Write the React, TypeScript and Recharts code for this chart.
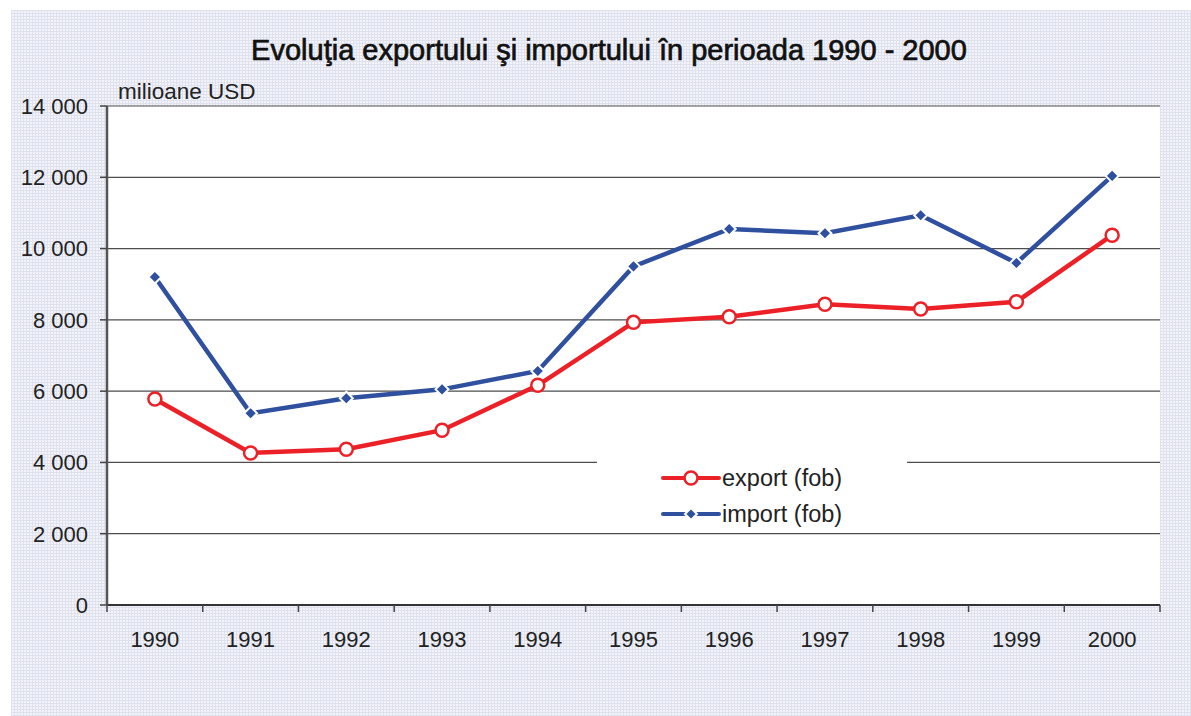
import React from 'react';
import { LineChart, Line, XAxis, YAxis, CartesianGrid, Legend } from 'recharts';

const years = ['1990', '1991', '1992', '1993', '1994', '1995', '1996', '1997', '1998', '1999', '2000'];
const exportValues = [5780, 4265, 4370, 4905, 6165, 7930, 8085, 8440, 8305, 8510, 10375];
const importValues = [9203, 5380, 5800, 6050, 6565, 9500, 10550, 10430, 10935, 9595, 12040];
const yTicks = [0, 2000, 4000, 6000, 8000, 10000, 12000, 14000];
const seriesNames = ['export (fob)', 'import (fob)'];
const titleText = 'Evoluţia exportului şi importului în perioada 1990 - 2000';
const unitLabel = 'milioane USD';

const data = years.map((y, i) => ({ year: y, exp: exportValues[i], imp: importValues[i] }));

const RED = '#ec2027';
const BLUE = '#2f4f9f';
const FONT = '"Liberation Sans", Arial, sans-serif';
const PLOT_W = 1053;
const BW = PLOT_W / years.length;

const fmt = (v: number) => String(v).replace(/\B(?=(\d{3})+(?!\d))/g, ' ');

const Diamond = (props: any) => {
  const { cx, cy } = props;
  if (cx == null || cy == null) return null;
  const s = 6.5;
  return (
    <path
      d={`M${cx},${cy - s} L${cx + s},${cy} L${cx},${cy + s} L${cx - s},${cy} Z`}
      fill={BLUE}
      stroke="#ffffff"
      strokeWidth={2}
    />
  );
};

const Ring = (props: any) => {
  const { cx, cy } = props;
  if (cx == null || cy == null) return null;
  return <circle cx={cx} cy={cy} r={6.5} fill="#ffffff" stroke={RED} strokeWidth={2.5} />;
};

const XTick = (props: any) => {
  const { x, y, payload, index } = props;
  const left = x - BW / 2;
  return (
    <g>
      <line x1={left} y1={y} x2={left} y2={y + 7} stroke="#444" strokeWidth={1.5} />
      {index === years.length - 1 && (
        <line x1={x + BW / 2} y1={y} x2={x + BW / 2} y2={y + 7} stroke="#444" strokeWidth={1.5} />
      )}
      <text x={x} y={y + 42} textAnchor="middle" fontSize={22} fill="#222" fontFamily={FONT}>
        {payload.value}
      </text>
    </g>
  );
};

const LegendContent = () => (
  <div style={{ width: 310, height: 74, background: '#ffffff', position: 'relative', fontFamily: FONT }}>
    {seriesNames.map((name, i) => (
      <div
        key={name}
        style={{ position: 'absolute', left: 64, top: 10 + i * 36, height: 24, display: 'flex', alignItems: 'center' }}
      >
        <svg width={60} height={24}>
          <line x1={2} y1={12} x2={58} y2={12} stroke={i === 0 ? RED : BLUE} strokeWidth={4} strokeLinecap="round" />
          {i === 0 ? (
            <circle cx={30} cy={12} r={6.5} fill="#fff" stroke={RED} strokeWidth={2.5} />
          ) : (
            <path d="M30,6 L36,12 L30,18 L24,12 Z" fill={BLUE} stroke="#fff" strokeWidth={2} />
          )}
        </svg>
        <span style={{ fontSize: 23.5, color: '#222', marginLeft: 1, whiteSpace: 'nowrap' }}>{name}</span>
      </div>
    ))}
  </div>
);

export default function App() {
  return (
    <div style={{ position: 'absolute', left: 0, top: 0, width: 1191, height: 716, background: '#ffffff', overflow: 'hidden' }}>
      <div
        style={{
          position: 'absolute',
          left: 11,
          top: 10,
          right: 0,
          bottom: 0,
          backgroundColor: '#f3f4f9',
          backgroundImage:
            'linear-gradient(90deg, #dfe2ee 1px, transparent 1px), linear-gradient(#dfe2ee 1px, transparent 1px)',
          backgroundSize: '3px 3px',
        }}
      />
      <div
        style={{
          position: 'absolute',
          left: 0,
          width: 1218,
          top: 34,
          textAlign: 'center',
          fontFamily: FONT,
          fontSize: 29,
          fontWeight: 'normal',
          WebkitTextStroke: '0.7px #111',
          color: '#111',
          whiteSpace: 'nowrap',
        }}
      >
        {titleText}
      </div>
      <div
        style={{ position: 'absolute', left: 118, top: 79, fontFamily: FONT, fontSize: 22.5, color: '#222', whiteSpace: 'nowrap' }}
      >
        {unitLabel}
      </div>
      <div style={{ position: 'absolute', left: 0, top: 0 }}>
        <LineChart width={1191} height={716} data={data} margin={{ top: 106, right: 31, bottom: 7, left: 47 }}>
          <CartesianGrid horizontal vertical={false} fill="#ffffff" fillOpacity={1} stroke="#4d4d4d" strokeWidth={1.2} />
          <XAxis
            dataKey="year"
            scale="band"
            height={30}
            tickLine={false}
            tickSize={0}
            tickMargin={0}
            axisLine={{ stroke: '#333', strokeWidth: 2 }}
            tick={<XTick />}
            interval={0}
          />
          <YAxis
            width={60}
            domain={[0, 14000]}
            ticks={yTicks}
            tickFormatter={fmt}
            axisLine={{ stroke: '#555', strokeWidth: 2.5 }}
            tickLine={{ stroke: '#444', strokeWidth: 1.5 }}
            tickSize={7}
            tickMargin={12}
            tick={{ fontSize: 22, fill: '#222', fontFamily: FONT }}
            interval={0}
          />
          <YAxis
            yAxisId="r"
            orientation="right"
            width={0}
            domain={[0, 14000]}
            tick={false}
            tickLine={false}
            axisLine={{ stroke: '#8a8a8a', strokeWidth: 3 }}
          />
          <Legend
            content={<LegendContent />}
            wrapperStyle={{ position: 'absolute', left: 597, top: 456, width: 310, height: 74 }}
          />
          <Line
            dataKey="imp"
            name={seriesNames[1]}
            stroke={BLUE}
            strokeWidth={4.5}
            dot={<Diamond />}
            activeDot={false}
            isAnimationActive={false}
          />
          <Line
            dataKey="exp"
            name={seriesNames[0]}
            stroke={RED}
            strokeWidth={4.5}
            dot={<Ring />}
            activeDot={false}
            isAnimationActive={false}
          />
        </LineChart>
      </div>
    </div>
  );
}
